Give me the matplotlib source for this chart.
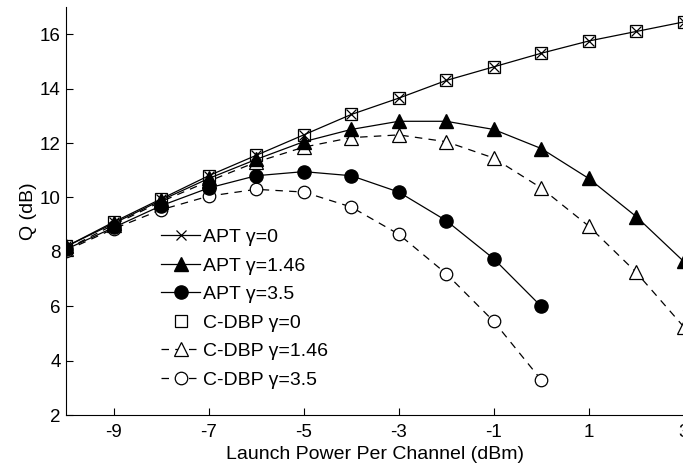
import matplotlib
matplotlib.use("Agg")
import matplotlib.pyplot as plt

plt.rcParams['font.family'] = ['Liberation Sans', 'DejaVu Sans']

power = [-10, -9, -8, -7, -6, -5, -4, -3, -2, -1, 0, 1, 2, 3]
power_short = [-10, -9, -8, -7, -6, -5, -4, -3, -2, -1, 0]

apt_g0 = [8.2, 9.1, 9.95, 10.8, 11.55, 12.3, 13.05, 13.65, 14.3, 14.8, 15.3, 15.75, 16.1, 16.45]
cdbp_g0 = [8.2, 9.1, 9.95, 10.8, 11.55, 12.3, 13.05, 13.65, 14.3, 14.8, 15.3, 15.75, 16.1, 16.45]
apt_g146 = [8.2, 9.05, 9.9, 10.7, 11.4, 12.05, 12.5, 12.8, 12.8, 12.5, 11.8, 10.7, 9.3, 7.65]
cdbp_g146 = [8.1, 9.0, 9.85, 10.6, 11.3, 11.85, 12.2, 12.3, 12.05, 11.45, 10.35, 8.95, 7.25, 5.25]
apt_g35 = [8.1, 8.9, 9.7, 10.35, 10.8, 10.95, 10.8, 10.2, 9.15, 7.75, 6.0]
cdbp_g35 = [8.05, 8.85, 9.55, 10.05, 10.3, 10.2, 9.65, 8.65, 7.2, 5.45, 3.3]

labels = ['APT γ=0', 'APT γ=1.46', 'APT γ=3.5', 'C-DBP γ=0', 'C-DBP γ=1.46', 'C-DBP γ=3.5']
xticks = [-9, -7, -5, -3, -1, 1, 3]
yticks = [2, 4, 6, 8, 10, 12, 14, 16]

fig = plt.figure(figsize=(6.83, 4.66), dpi=100)
ax = fig.add_axes([0.097, 0.109, 0.904, 0.876])

lw = 0.9
dash = (0, (6, 5))
ax.plot(power, apt_g0, color='black', lw=lw, marker='x', ms=7, mew=0.9, label=labels[0], zorder=3)
ax.plot(power, apt_g146, color='black', lw=lw, marker='^', ms=10.5, mfc='black', label=labels[1], zorder=3)
ax.plot(power_short, apt_g35, color='black', lw=lw, marker='o', ms=9.5, mfc='black', label=labels[2], zorder=3)
ax.plot(power, cdbp_g0, color='black', lw=0, marker='s', ms=8, mfc='none', mew=0.9, label=labels[3], zorder=2)
ax.plot(power, cdbp_g146, color='black', lw=lw, ls=dash, marker='^', ms=10.5, mfc='white', mew=0.9, label=labels[4], zorder=2)
ax.plot(power_short, cdbp_g35, color='black', lw=lw, ls=dash, marker='o', ms=9, mfc='white', mew=0.9, label=labels[5], zorder=2)

ax.set_xlim(-10, 3)
ax.set_ylim(2, 17)
ax.set_xticks(xticks)
ax.set_xticklabels([str(t) for t in xticks])
ax.set_yticks(yticks)
ax.tick_params(direction='in', length=5, labelsize=13.5, width=0.8)
ax.tick_params(axis='x', pad=6)
ax.tick_params(axis='y', pad=4)
ax.spines['top'].set_visible(False)
ax.spines['right'].set_visible(False)
ax.set_xlabel('Launch Power Per Channel (dBm)', fontsize=14, labelpad=4)
ax.set_ylabel('Q (dB)', fontsize=14, labelpad=2)

leg = ax.legend(loc='lower left', bbox_to_anchor=(0.1415, 0.046), frameon=False, fontsize=14,
                handlelength=2.0, handletextpad=0.12, labelspacing=0.56, borderaxespad=0)

fig.savefig('out.png', dpi=100)
